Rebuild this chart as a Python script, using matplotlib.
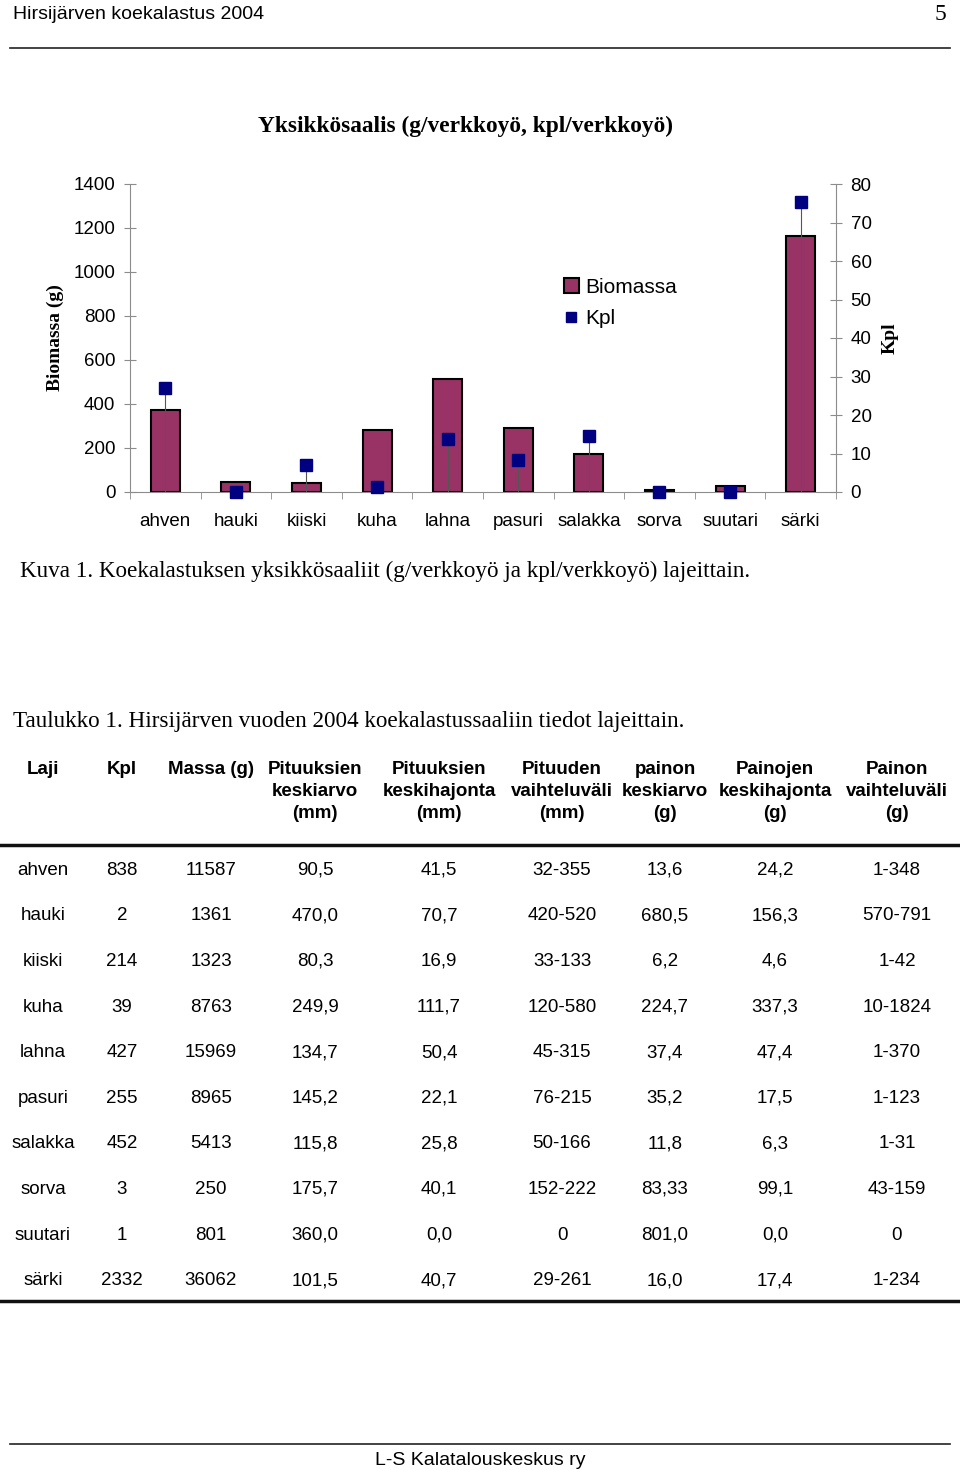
import matplotlib
matplotlib.use("Agg")
import matplotlib.pyplot as plt
from matplotlib.lines import Line2D
from matplotlib.patches import Patch

plt.rcParams['font.family'] = ['Liberation Sans', 'DejaVu Sans']

# chart data (g/verkkoyö and kpl/verkkoyö)
lajit = ["ahven", "hauki", "kiiski", "kuha", "lahna", "pasuri", "salakka", "sorva", "suutari", "särki"]
biomassa = [373.8, 43.9, 42.7, 282.7, 515.1, 289.2, 174.6, 8.1, 25.8, 1163.3]
kpl = [27.0, 0.06, 6.9, 1.26, 13.8, 8.2, 14.6, 0.1, 0.03, 75.2]

# table data
t_kpl = ["838", "2", "214", "39", "427", "255", "452", "3", "1", "2332"]
t_massa = ["11587", "1361", "1323", "8763", "15969", "8965", "5413", "250", "801", "36062"]
t_pit_ka = ["90,5", "470,0", "80,3", "249,9", "134,7", "145,2", "115,8", "175,7", "360,0", "101,5"]
t_pit_kh = ["41,5", "70,7", "16,9", "111,7", "50,4", "22,1", "25,8", "40,1", "0,0", "40,7"]
t_pit_vv = ["32-355", "420-520", "33-133", "120-580", "45-315", "76-215", "50-166", "152-222", "0", "29-261"]
t_paino_ka = ["13,6", "680,5", "6,2", "224,7", "37,4", "35,2", "11,8", "83,33", "801,0", "16,0"]
t_paino_kh = ["24,2", "156,3", "4,6", "337,3", "47,4", "17,5", "6,3", "99,1", "0,0", "17,4"]
t_paino_vv = ["1-348", "570-791", "1-42", "10-1824", "1-370", "1-123", "1-31", "43-159", "0", "1-234"]
otsikot = [["Laji"], ["Kpl"], ["Massa (g)"], ["Pituuksien", "keskiarvo", "(mm)"],
           ["Pituuksien", "keskihajonta", "(mm)"], ["Pituuden", "vaihteluväli", "(mm)"],
           ["painon", "keskiarvo", "(g)"], ["Painojen", "keskihajonta", "(g)"],
           ["Painon", "vaihteluväli", "(g)"]]

W, H = 960, 1470
def fx(p):
    return p / W
def fy(p):
    return 1 - p / H

fig = plt.figure(figsize=(W / 100, H / 100), dpi=100)
serif = ['Liberation Serif', 'DejaVu Serif']

# page header / footer
fig.text(fx(13), fy(19), "Hirsijärven koekalastus 2004", fontsize=14, va='baseline', ha='left')
fig.text(fx(946), fy(20), "5", fontsize=17, va='baseline', ha='right', family=serif)
fig.add_artist(Line2D([fx(10), fx(950)], [fy(48), fy(48)], color='#222222', lw=1.2))
fig.add_artist(Line2D([fx(10), fx(950)], [fy(1444), fy(1444)], color='#222222', lw=1.2))
fig.text(fx(480), fy(1465), "L-S Kalatalouskeskus ry", fontsize=14, va='baseline', ha='center')

# chart
grey = '#8c8c8c'
ax = fig.add_axes([fx(130), fy(492), (836 - 130) / W, (492 - 184) / H])
x = list(range(len(lajit)))
ax.bar(x, biomassa, width=0.41, color='#993366', edgecolor='black', linewidth=1.5, zorder=2)
ax.set_xlim(-0.5, len(lajit) - 0.5)
ax.set_ylim(0, 1400)
ax.set_yticks(range(0, 1401, 200))
ax.set_xticks(x)
ax.set_xticklabels(lajit, fontsize=13.5)
ax.set_xticks([i - 0.5 for i in range(len(lajit) + 1)], minor=True)
ax.tick_params(axis='x', which='major', length=0, pad=15)
ax.tick_params(axis='x', which='minor', length=5, color=grey, direction='out')
ax.tick_params(axis='y', labelsize=13.5, direction='inout', length=9, color=grey, pad=6)
for s in ['top', 'right']:
    ax.spines[s].set_visible(False)
ax.spines['left'].set_color(grey)
ax.spines['bottom'].set_color(grey)
ax.spines['bottom'].set_zorder(3)

ax2 = ax.twinx()
ax2.set_ylim(0, 80)
ax2.set_yticks(range(0, 81, 10))
ax2.tick_params(axis='y', labelsize=13.5, direction='inout', length=9, color=grey, pad=6)
for s in ['top', 'left', 'bottom']:
    ax2.spines[s].set_visible(False)
ax2.spines['right'].set_color(grey)
ax2.vlines(x, 0, kpl, color='#555555', lw=0.8)
ax2.plot(x, kpl, 's', color='#000080', ms=8, clip_on=False, zorder=5)

handles = [Patch(facecolor='#993366', edgecolor='black', linewidth=1.5),
           Line2D([], [], marker='s', ls='none', color='#000080', ms=7.5)]
fig.legend(handles, ["Biomassa", "Kpl"], loc='upper left', bbox_to_anchor=(fx(564), fy(278)),
           frameon=False, fontsize=15, handlelength=0.7, handleheight=0.7,
           handletextpad=0.3, labelspacing=0.6, borderpad=0, borderaxespad=0)

fig.text(fx(465), fy(126), "Yksikkösaalis (g/verkkoyö, kpl/verkkoyö)", fontsize=16.8, fontweight='bold',
         family=serif, ha='center', va='center')
fig.text(fx(55), fy(338), "Biomassa (g)", fontsize=14, fontweight='bold', family=serif,
         rotation=90, ha='center', va='center')
fig.text(fx(890), fy(338), "Kpl", fontsize=14, fontweight='bold', family=serif,
         rotation=90, ha='center', va='center')

fig.text(fx(20), fy(577), "Kuva 1. Koekalastuksen yksikkösaaliit (g/verkkoyö ja kpl/verkkoyö) lajeittain.",
         fontsize=16.7, family=serif, ha='left', va='baseline')
fig.text(fx(13), fy(727), "Taulukko 1. Hirsijärven vuoden 2004 koekalastussaaliin tiedot lajeittain.",
         fontsize=16.7, family=serif, ha='left', va='baseline')

# table
col_x = [43, 122, 211, 315, 439, 562, 665, 775, 897]
head_y = [767, 789, 811]
for cx, lines in zip(col_x, otsikot):
    for ly, txt in zip(head_y, lines):
        fig.text(fx(cx), fy(ly + 6.7), txt, fontsize=13.5, fontweight='bold', ha='center', va='baseline')

fig.add_artist(Line2D([0, fx(958)], [fy(845), fy(845)], color='#111111', lw=2.5))
fig.add_artist(Line2D([0, fx(958)], [fy(1301), fy(1301)], color='#111111', lw=2.5))

columns = [lajit, t_kpl, t_massa, t_pit_ka, t_pit_kh, t_pit_vv, t_paino_ka, t_paino_kh, t_paino_vv]
row_y0, row_dy = 868, 45.6
for cx, col in zip(col_x, columns):
    for i, txt in enumerate(col):
        fig.text(fx(cx), fy(row_y0 + i * row_dy + 6.7), txt, fontsize=13.5, ha='center', va='baseline')

fig.savefig("out.png", dpi=100)
